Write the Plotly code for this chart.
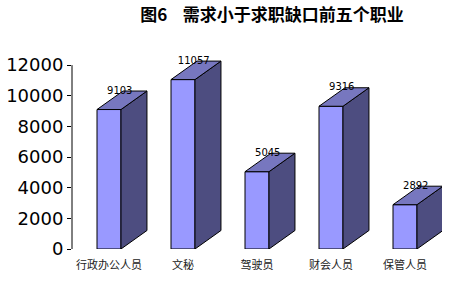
import plotly.graph_objects as go

categories = ["行政办公人员", "文秘", "驾驶员", "财会人员", "保管人员"]
values = [9103, 11057, 5045, 9316, 2892]
y_ticks = [0, 2000, 4000, 6000, 8000, 10000, 12000]
title_text = "图6    需求小于求职缺口前五个职业"

FRONT = "#9999FF"
SIDE = "#4D4D80"
TOP = "#7777BF"

half_w = 0.162     # half of front-face width (category units)
depth_x = 0.351    # 3D depth offset in category units
depth_y = 1207     # 3D depth offset in value units

fig = go.Figure()
for i, v in enumerate(values):
    xl, xr = i - half_w, i + half_w
    # front face
    fig.add_trace(go.Scatter(x=[xl, xr, xr, xl, xl], y=[0, 0, v, v, 0],
                             fill="toself", fillcolor=FRONT, mode="lines",
                             line=dict(color="black", width=1), hoverinfo="skip"))
    # side face
    fig.add_trace(go.Scatter(x=[xr, xr + depth_x, xr + depth_x, xr, xr],
                             y=[0, depth_y, v + depth_y, v, 0],
                             fill="toself", fillcolor=SIDE, mode="lines",
                             line=dict(color="black", width=1), hoverinfo="skip"))
    # top face
    fig.add_trace(go.Scatter(x=[xl, xr, xr + depth_x, xl + depth_x, xl],
                             y=[v, v, v + depth_y, v + depth_y, v],
                             fill="toself", fillcolor=TOP, mode="lines",
                             line=dict(color="black", width=1), hoverinfo="skip"))

fig.add_trace(go.Scatter(
    x=[i + depth_x / 2 - 0.03 for i in range(len(values))],
    y=[v + depth_y for v in values],
    mode="text", text=[str(v) for v in values], textposition="middle center",
    textfont=dict(family="DejaVu Sans", size=10, color="black"),
    cliponaxis=False, hoverinfo="skip"))

fig.add_shape(type="line", xref="paper", yref="y", x0=0, x1=0, y0=0, y1=12000,
              line=dict(color="black", width=1))

fig.update_layout(
    width=473, height=288,
    margin=dict(l=72, r=31, t=59, b=39, autoexpand=False),
    paper_bgcolor="white", plot_bgcolor="white",
    showlegend=False,
    title=dict(text="<b>" + title_text + "</b>", x=0.575, xanchor="center",
               y=0.948, yanchor="middle",
               font=dict(family="Noto Sans CJK SC", size=17, color="black")),
    xaxis=dict(range=[-0.5, 4.5], tickvals=list(range(len(categories))),
               ticktext=categories, showgrid=False, zeroline=False,
               showline=False, ticks="outside", ticklen=6, tickcolor="rgba(0,0,0,0)",
               fixedrange=True, automargin=False,
               tickfont=dict(family="Noto Sans CJK SC", size=11, color="#222")),
    yaxis=dict(range=[0, 12400], tickvals=y_ticks,
               ticktext=[str(t) for t in y_ticks], showgrid=False,
               zeroline=False, showline=False, ticks="outside", ticklen=4,
               tickcolor="black", fixedrange=True, automargin=False,
               tickfont=dict(family="DejaVu Sans", size=18, color="black")),
)

fig.write_html("out.html")
